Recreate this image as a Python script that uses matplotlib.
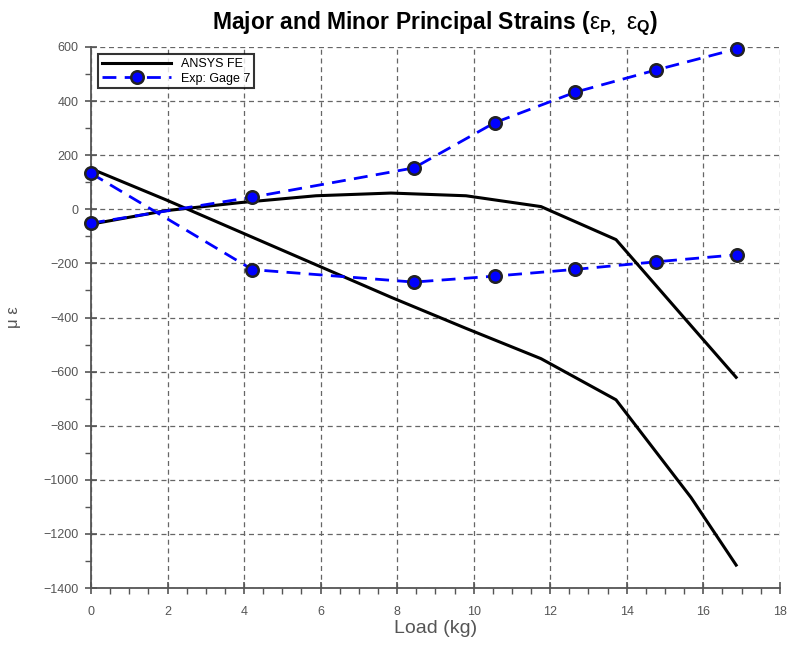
import numpy as np
import matplotlib
matplotlib.use('Agg')
import matplotlib.pyplot as plt
from matplotlib.ticker import MultipleLocator

plt.rcParams['font.family'] = ['Liberation Sans', 'DejaVu Sans']
plt.rcParams['mathtext.fontset'] = 'custom'
plt.rcParams['mathtext.rm'] = 'Liberation Sans'
plt.rcParams['mathtext.bf'] = 'Liberation Sans:bold'

# FE results (ANSYS), load in kg
fe_load = [0, 1.96, 3.92, 5.88, 7.84, 9.80, 11.76, 13.72, 15.68, 16.86]
fe_major = [-55, -5, 25, 50, 60, 50, 10, -112, -430, -621]
fe_minor = [150, 35, -85, -205, -325, -440, -552, -704, -1065, -1315]

# experiment, gage 7
exp_load = [0, 4.22, 8.44, 10.55, 12.66, 14.77, 16.88]
exp_major = [-51, 45, 153, 320, 433, 515, 593]
exp_minor = [133, -223, -269, -247, -222, -194, -168]

fig = plt.figure(figsize=(7.89, 6.52), dpi=100)
ax = fig.add_axes([0.1153, 0.098, 0.873, 0.830])

ax.plot(fe_load, fe_major, color='black', lw=2.2, label='ANSYS FE', zorder=3)
ax.plot(fe_load, fe_minor, color='black', lw=2.2, zorder=3)
mk = dict(color='#0000ff', lw=2, dashes=(5, 3), marker='o', markersize=9,
          markerfacecolor='#0000ff', markeredgecolor='#222222', markeredgewidth=1.8,
          zorder=4, clip_on=False)
ax.plot(exp_load, exp_major, label='Exp: Gage 7', **mk)
ax.plot(exp_load, exp_minor, **mk)

ax.set_xlim(0, 18)
ax.set_ylim(-1400, 600)
ax.xaxis.set_major_locator(MultipleLocator(2))
ax.xaxis.set_minor_locator(MultipleLocator(0.5))
ax.yaxis.set_major_locator(MultipleLocator(200))
ax.yaxis.set_minor_locator(MultipleLocator(100))

ax.grid(True, which='major', color='#666666', linestyle=(0, (4, 3)), linewidth=0.9)
for s in ['top', 'right']:
    ax.spines[s].set_visible(False)
for s in ['left', 'bottom']:
    ax.spines[s].set_color('#555555')
    ax.spines[s].set_linewidth(1.3)
ax.tick_params(which='major', direction='inout', length=8, width=1.2, color='#555555',
               labelsize=9, labelcolor='#555555')
ax.tick_params(which='minor', direction='out', length=4, width=1.0, color='#555555')
ax.tick_params(axis='x', which='major', pad=9)
ax.tick_params(axis='y', which='major', pad=5)
ax.set_yticklabels([str(int(v)).replace('-', '\u2212') for v in ax.get_yticks()])

ax.set_xlabel('Load (kg)', fontsize=14, color='#555555', labelpad=1)
ax.set_ylabel('\u03bc \u03b5', fontsize=12, color='#555555', labelpad=16)
ax.set_title('Major and Minor Principal Strains ($\\mathrm{\u03b5}_{\\mathbf{P,}}\\ \\mathrm{\u03b5}_\\mathbf{Q}$)',
             fontsize=16.5, fontweight='bold', pad=13)

leg = ax.legend(loc='upper left', fontsize=9, frameon=True, fancybox=False,
                borderpad=0.3, handlelength=5.5, labelspacing=0.2, borderaxespad=0.6)
leg.get_frame().set_edgecolor('black')
leg.get_frame().set_linewidth(1.5)

fig.savefig('out.png', dpi=100)
